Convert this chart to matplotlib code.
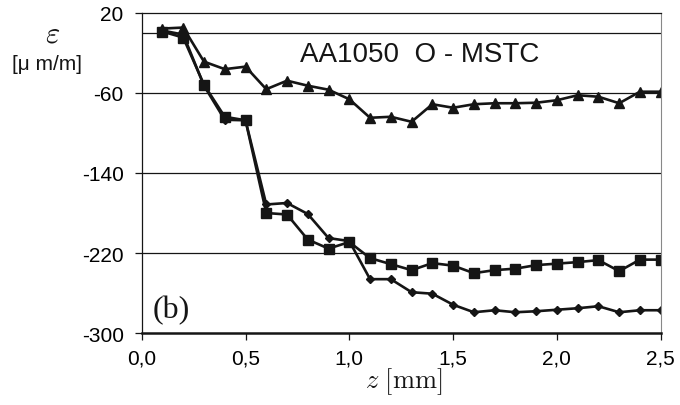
import matplotlib
matplotlib.use("Agg")
import matplotlib.pyplot as plt

plt.rcParams['mathtext.fontset'] = 'cm'

# profundidad z [mm]
z = [0.1, 0.2, 0.3, 0.4, 0.5, 0.6, 0.7, 0.8, 0.9, 1.0,
     1.1, 1.2, 1.3, 1.4, 1.5, 1.6, 1.7, 1.8, 1.9, 2.0,
     2.1, 2.2, 2.3, 2.4, 2.5]

# deformacion [um/m] para cada serie
eps_triangulo = [4, 5, -29, -36.5, -34, -56.5, -48, -53, -57, -66.5,
                 -85, -84, -89, -71.5, -75, -71.5, -70.5, -70.5, -70, -67.5,
                 -62.5, -64, -70.5, -59, -59]
eps_cuadrado = [1, -5, -52, -84, -87.5, -180, -181.5, -206.5, -215.5, -209,
                -225, -231, -237, -230, -232.5, -240, -237, -235.5, -232, -230.5,
                -229, -227, -238, -226.5, -226.5]
eps_rombo = [2, -2, -53, -87, -87.5, -171.5, -170, -181, -205, -208,
             -246, -246, -259, -260.5, -271.5, -279, -277, -279, -278, -276.5,
             -275, -273, -279, -277, -277]

xticks = [0.0, 0.5, 1.0, 1.5, 2.0, 2.5]
xlabels = ['0,0', '0,5', '1,0', '1,5', '2,0', '2,5']
yticks = [20, -60, -140, -220, -300]
grid_y = [0, -60, -140, -220]

sans = ['Liberation Sans', 'DejaVu Sans']
serif = ['Liberation Serif', 'DejaVu Serif']
negro = '#151515'

fig = plt.figure(figsize=(6.8, 4.06), dpi=100)
ax = fig.add_axes([0.2084, 0.1766, 0.7632, 0.7901])

for g in grid_y:
    ax.axhline(g, color=negro, lw=0.9, zorder=1)

ax.plot(z, eps_rombo, color=negro, lw=1.9, marker='D', ms=4.5, zorder=3)
ax.plot(z, eps_cuadrado, color=negro, lw=1.9, marker='s', ms=7.5, zorder=4)
ax.plot(z, eps_triangulo, color=negro, lw=1.9, marker='^', ms=7, zorder=5)

ax.set_xlim(0, 2.5)
ax.set_ylim(-300, 20)
ax.set_xticks(xticks)
ax.set_xticklabels(xlabels, family=sans, fontsize=15)
ax.set_yticks(yticks)
ax.set_yticklabels([str(v) for v in yticks], family=sans, fontsize=15)
ax.tick_params(direction='out', length=5, width=0.9, color=negro)
ax.tick_params(axis='y', pad=8)
ax.tick_params(axis='x', pad=6)

ax.spines['top'].set_linewidth(0.9)
ax.spines['top'].set_color(negro)
ax.spines['left'].set_linewidth(0.9)
ax.spines['left'].set_color(negro)
ax.spines['bottom'].set_linewidth(1.8)
ax.spines['bottom'].set_color(negro)
ax.spines['right'].set_linewidth(0.8)
ax.spines['right'].set_color('#888888')
for s in ax.spines.values():
    s.set_zorder(6)

ax.text(0.762, -28.5, 'AA1050  O - MSTC', family=sans, fontsize=20,
        ha='left', va='baseline', color=negro)
ax.text(0.054, -276, '(b)', family=serif, fontsize=23,
        ha='left', va='center', color=negro)

fig.text(53 / 680, 1 - 34 / 406, r'$\varepsilon$', fontsize=22,
         ha='center', va='center', color=negro)
fig.text(47 / 680, 1 - 64 / 406, '[\u03bc m/m]', family=sans, fontsize=15,
         ha='center', va='center', color=negro)
fig.text(404 / 680, 1 - 382 / 406, r'$z\ [\mathrm{mm}]$', fontsize=19,
         ha='center', va='center', color=negro)

fig.savefig('out.png', dpi=100)
